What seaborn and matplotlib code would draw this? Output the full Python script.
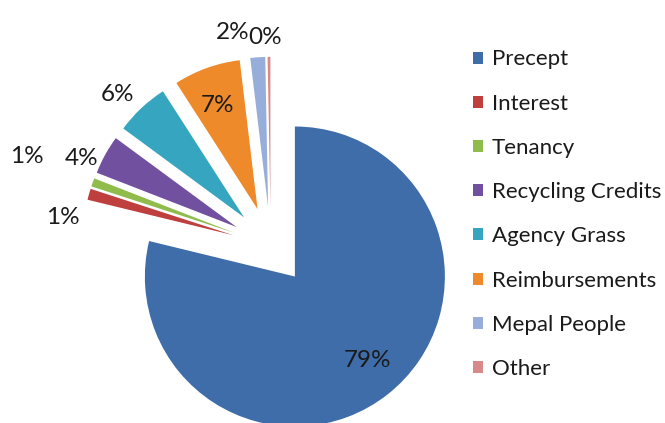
import matplotlib
matplotlib.use("Agg")
import matplotlib.pyplot as plt
import seaborn as sns
import numpy as np

categories = ["Precept", "Interest", "Tenancy", "Recycling Credits",
              "Agency Grass", "Reimbursements", "Mepal People", "Other"]
values = [78.8, 1.2, 0.9, 4.2, 5.8, 7.2, 1.6, 0.3]

colors = ["#3E6DAA", "#BF3F3F", "#8FBC4A", "#7150A0",
          "#35A5C0", "#EE8A2A", "#98AEDA", "#D88A8A"]

# label placement (distance from wedge tip, angle nudge in degrees)
label_dist = [0.74, 1.14, 1.47, 1.13, 1.18, 0.74, 1.19, 1.13]
label_shift = [3, 10, -0.6, 5, 2.6, 1.6, 7.6, 1.4]

sns.set_theme(style="white")
plt.rcParams["font.family"] = ["Lato", "DejaVu Sans"]

fig = plt.figure(figsize=(6.65, 4.23), dpi=100)
ax = fig.add_axes([0, 0, 1, 1])

wedges, _ = ax.pie(values, colors=colors, startangle=90, counterclock=False,
                   explode=[0.26] * len(values),
                   wedgeprops=dict(linewidth=0))

total = sum(values)
for w, v, d, s in zip(wedges, values, label_dist, label_shift):
    mid = np.deg2rad((w.theta1 + w.theta2) / 2 + s)
    cx, cy = w.center
    ax.text(cx + d * np.cos(mid), cy + d * np.sin(mid),
            f"{v / total * 100:.0f}%", ha="center", va="center",
            fontsize=17.5, color="#1a1a1a")

ax.set_xlim(-1.805, 2.628)
ax.set_ylim(-1.181, 1.639)
ax.axis("off")

leg = fig.legend(wedges, categories, loc="upper left", bbox_to_anchor=(0.711, 0.883),
                 frameon=False, fontsize=16, borderpad=0, borderaxespad=0,
                 handlelength=0.45, handleheight=0.45, handletextpad=0.4,
                 labelspacing=1.09)
for t in leg.get_texts():
    t.set_color("#1a1a1a")

fig.savefig("out.png", dpi=100, facecolor="white")
